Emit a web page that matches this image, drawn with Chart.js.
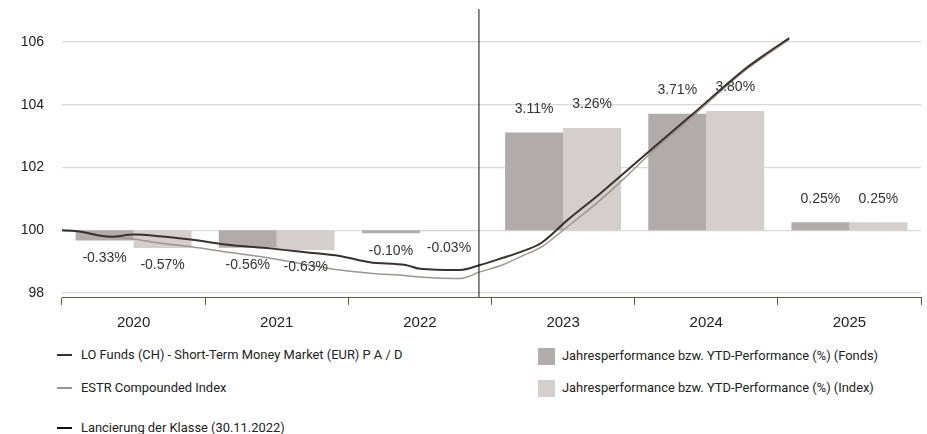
<!DOCTYPE html>
<html>
<head>
<meta charset="utf-8">
<script src="https://cdn.jsdelivr.net/npm/chart.js@4.4.1/dist/chart.umd.min.js"></script>
<style>
  body { margin: 0; background: #fff; }
  #wrap { position: relative; width: 927px; height: 434px; }
  #box { position: absolute; left: 0; top: 0; width: 927px; height: 340px; }
  .lg { position: absolute; font-family: Roboto, "Liberation Sans", Arial, sans-serif;
        font-size: 12.9px; color: #222; line-height: 18px; white-space: nowrap; }
  .sw { position: absolute; }
</style>
</head>
<body>
<div id="wrap">
  <div id="box"><canvas id="chart"></canvas></div>
  <div id="legend"></div>
</div>
<script>
const years = ['2020', '2021', '2022', '2023', '2024', '2025'];
const fundPerf = [-0.33, -0.56, -0.10, 3.11, 3.71, 0.25];
const indexPerf = [-0.57, -0.63, -0.03, 3.26, 3.80, 0.25];

// decimal years for the two lines
const lineDates = [2020.00, 2020.13, 2020.27, 2020.34, 2020.50, 2020.68, 2020.90, 2021.19, 2021.45,
  2021.70, 2021.94, 2022.15, 2022.40, 2022.50, 2022.78, 2022.92, 2023.08, 2023.20, 2023.35,
  2023.53, 2023.76, 2023.92, 2024.11, 2024.41, 2024.76, 2024.92, 2025.08];
const fundLine = [100.00, 99.95, 99.82, 99.79, 99.86, 99.81, 99.70, 99.52, 99.42,
  99.30, 99.18, 98.98, 98.89, 98.77, 98.73, 98.89, 99.12, 99.30, 99.60,
  100.32, 101.17, 101.80, 102.55, 103.72, 105.10, 105.63, 106.12];
const indexLine = [100.00, 99.94, 99.84, 99.80, 99.72, 99.59, 99.47, 99.28, 99.11,
  98.91, 98.73, 98.63, 98.55, 98.51, 98.46, 98.67, 98.90, 99.15, 99.47,
  100.11, 100.96, 101.62, 102.45, 103.65, 105.05, 105.58, 106.08];

const yTicks = [98, 100, 102, 104, 106];
const launchDate = 2022 + 333 / 365; // 30.11.2022
const yMin = 97.87, yMax = 107.05;

const names = {
  fund: 'LO Funds (CH) - Short-Term Money Market (EUR) P A / D',
  index: 'ESTR Compounded Index',
  launch: 'Lancierung der Klasse (30.11.2022)',
  barFund: 'Jahresperformance bzw. YTD-Performance (%) (Fonds)',
  barIndex: 'Jahresperformance bzw. YTD-Performance (%) (Index)'
};
const colors = { fund: '#3b3030', index: '#9e9490', launch: '#111', barFund: '#b1acab', barIndex: '#d4cfcc' };

const toPoints = vals => vals.map((v, i) => ({ x: lineDates[i], y: v }));
// bars sit in the middle of each year on the same time axis as the lines
const toBars = perf => perf.map((p, i) => ({ x: Number(years[i]) + 0.5, y: [100, 100 + p] }));

const barLabels = {
  id: 'barLabels',
  afterDatasetsDraw(chart) {
    const ctx = chart.ctx;
    ctx.save();
    ctx.font = '14px "Liberation Sans", Arial, sans-serif';
    ctx.fillStyle = '#333';
    ctx.textAlign = 'center';
    ctx.textBaseline = 'middle';
    chart.data.datasets.forEach((ds, di) => {
      if (ds.type !== 'bar') return;
      chart.getDatasetMeta(di).data.forEach((bar, i) => {
        const p = ds.perf[i];
        const y = p >= 0 ? Math.min(bar.y, bar.base) - 23.5 : Math.max(bar.y, bar.base) + 17.5;
        ctx.fillText(p.toFixed(2) + '%', bar.x, y);
      });
    });
    ctx.restore();
  }
};

const chart = new Chart(document.getElementById('chart'), {
  data: {
    labels: years,
    datasets: [
      { type: 'bar', label: names.barFund, order: 2, perf: fundPerf, data: toBars(fundPerf),
        backgroundColor: colors.barFund, categoryPercentage: 0.81, barPercentage: 1 },
      { type: 'bar', label: names.barIndex, order: 2, perf: indexPerf, data: toBars(indexPerf),
        backgroundColor: colors.barIndex, categoryPercentage: 0.81, barPercentage: 1 },
      { type: 'line', label: names.launch, order: -1,
        data: [{ x: launchDate, y: yMin }, { x: launchDate, y: yMax }],
        borderColor: colors.launch, borderWidth: 1, pointRadius: 0 },
      { type: 'line', label: names.fund, order: 0, data: toPoints(fundLine),
        borderColor: colors.fund, borderWidth: 2, pointRadius: 0, cubicInterpolationMode: 'monotone' },
      { type: 'line', label: names.index, order: 1, data: toPoints(indexLine),
        borderColor: colors.index, borderWidth: 1.5, pointRadius: 0, cubicInterpolationMode: 'monotone' }
    ]
  },
  options: {
    responsive: true,
    maintainAspectRatio: false,
    animation: false,
    layout: { padding: { top: 9, right: 6, left: 0, bottom: 0 } },
    plugins: { legend: { display: false }, tooltip: { enabled: false } },
    scales: {
      x: { type: 'linear', min: 2020, max: 2026, offset: false, grid: { offset: false }, display: false },
      xl: {
        type: 'category', position: 'bottom', offset: true,
        grid: { offset: true, drawOnChartArea: false, drawTicks: true, tickLength: 8, color: '#5b5c45' },
        border: { display: true, color: '#5b5c45' },
        ticks: { color: '#222', padding: 9, font: { family: '"Liberation Sans", Arial, sans-serif', size: 15 } },
        afterFit: s => { s.height = 43; s.paddingLeft = 0; s.paddingRight = 0; }
      },
      y: {
        min: yMin, max: yMax,
        afterBuildTicks: s => { s.ticks = yTicks.map(v => ({ value: v })); },
        grid: { color: '#d8d8d8', lineWidth: 1.3, drawTicks: false },
        border: { display: false },
        ticks: { color: '#222', padding: 18, font: { family: '"Liberation Sans", Arial, sans-serif', size: 14 } },
        afterFit: s => { s.width = 62; s.paddingTop = 0; s.paddingBottom = 0; }
      }
    }
  },
  plugins: [barLabels]
});

// html legend, two columns like the factsheet
const legend = document.getElementById('legend');
function addLine(x, y, color, h, text) {
  legend.insertAdjacentHTML('beforeend',
    `<div class="sw" style="left:${x}px;top:${y - h / 2}px;width:15px;height:${h}px;background:${color}"></div>` +
    `<div class="lg" style="left:${x + 24}px;top:${y - 9}px">${text}</div>`);
}
function addBox(x, y, color, text) {
  legend.insertAdjacentHTML('beforeend',
    `<div class="sw" style="left:${x}px;top:${y - 8.5}px;width:17px;height:17px;background:${color}"></div>` +
    `<div class="lg" style="left:${x + 24}px;top:${y - 9}px">${text}</div>`);
}
addLine(57, 355, colors.fund, 2, names.fund);
addLine(57, 388, colors.index, 2, names.index);
addLine(57, 428, colors.launch, 1.5, names.launch);
addBox(538, 356, colors.barFund, names.barFund);
addBox(538, 388, colors.barIndex, names.barIndex);
</script>
</body>
</html>
